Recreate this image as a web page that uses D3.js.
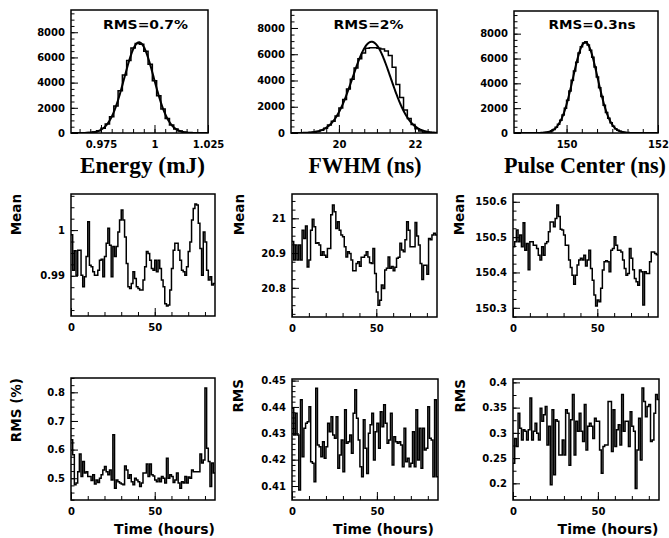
<!DOCTYPE html>
<html><head><meta charset="utf-8">
<script src="https://cdn.jsdelivr.net/npm/d3@7"></script>
<style>
body{margin:0;background:#fff}
svg{display:block}
text{font-family:"DejaVu Sans",sans-serif;font-weight:bold;fill:#000}
</style></head><body>
<svg id="c" width="669" height="538"></svg>
<script>
// ---------- DATA ----------
// Histograms (counts per bin)
const energyBinStart = 0.961, energyBinWidth = 0.002;
const energyCounts = [0,1,4,11,31,77,176,372,722,1290,2150,3350,4600,5750,6750,7100,7050,6500,5450,4150,2950,1900,1150,640,320,150,64,25,9,3,1,0];
const energyFit = [7200, 0.9928, 0.0069]; // amplitude, mean, sigma

const fwhmBinStart = 18.8, fwhmBinWidth = 0.1;
const fwhmCounts = [0,0,0,3,30,60,120,210,360,600,900,1300,1900,2550,3350,4100,4950,5650,6100,6450,6500,6500,6450,6400,6250,5900,5000,3700,2700,1750,1100,640,330,150,60,20,6,0];
const fwhmFit = [6950, 20.86, 0.5];

const pulseBinStart = 149.35, pulseBinWidth = 0.05;
const pulseCounts = [5,9,18,34,61,106,180,292,458,695,1028,1455,1990,2634,3380,4250,5000,5700,6440,6950,7240,7350,7090,6670,6100,5320,4520,3650,2930,2240,1660,1185,820,548,352,218,132,76,44,23,12,6,3];
const pulseFit = [7300, 150.41, 0.27];

// Time series (1-hour bins starting at t = 0)
const energyMean = [0.9990,0.9912,0.9955,0.9901,0.9956,0.9956,0.9901,0.9876,0.9898,0.9942,
 1.0018,0.9923,0.9920,0.9909,0.9901,0.9901,0.9912,0.9934,0.9936,0.9898,
 0.9942,0.9971,1.0004,0.9967,0.9898,0.9964,0.9942,0.9964,0.9996,1.0022,
 1.0044,1.0022,0.9985,0.9927,0.9876,0.9872,0.9883,0.9909,0.9894,0.9876,
 0.9872,0.9869,0.9869,0.9891,0.9920,0.9953,0.9949,0.9934,0.9916,0.9912,
 0.9934,0.9909,0.9934,0.9916,0.9891,0.9876,0.9839,0.9834,0.9836,0.9869,
 0.9916,0.9956,0.9971,0.9971,0.9956,0.9934,0.9912,0.9909,0.9901,0.9920,
 0.9953,0.9974,1.0022,1.0047,1.0057,1.0055,1.0015,0.9960,0.9901,0.9996,
 0.9974,0.9912,0.9891,0.9898,0.9880,0.9883];
const fwhmMean = [20.933,20.880,20.923,20.880,20.923,20.880,20.966,20.942,20.978,20.860,
 20.880,20.966,20.997,20.976,20.928,20.930,20.923,20.894,20.904,20.894,
 20.888,20.913,20.913,21.010,21.038,21.019,20.971,20.990,20.966,20.952,
 20.947,20.918,20.889,20.904,20.899,20.880,20.849,20.849,20.870,20.875,
 20.862,20.888,20.888,20.894,20.904,20.889,20.872,20.870,20.913,20.841,
 20.788,20.750,20.764,20.808,20.798,20.851,20.856,20.889,20.856,20.861,
 20.849,20.859,20.885,20.888,20.928,20.909,20.904,20.938,20.990,20.966,
 20.918,20.918,20.918,20.988,20.949,20.923,20.870,20.824,20.865,20.865,
 20.839,20.942,20.938,20.952,20.957,20.952];
const pulseMean = [150.473,150.487,150.520,150.487,150.506,150.473,150.541,150.463,150.482,150.408,
 150.487,150.487,150.477,150.477,150.468,150.449,150.435,150.473,150.449,150.482,
 150.487,150.515,150.543,150.543,150.529,150.553,150.591,150.558,150.522,150.520,
 150.506,150.477,150.477,150.435,150.414,150.392,150.367,150.392,150.421,150.435,
 150.440,150.435,150.449,150.418,150.435,150.463,150.411,150.378,150.336,150.305,
 150.322,150.317,150.355,150.407,150.430,150.433,150.430,150.402,150.463,150.468,
 150.501,150.477,150.463,150.463,150.458,150.435,150.411,150.392,150.397,150.468,
 150.440,150.408,150.383,150.374,150.364,150.407,150.402,150.308,150.402,150.397,
 150.397,150.430,150.458,150.458,150.454,150.450];
const energyRms = [0.634,0.582,0.477,0.483,0.523,0.585,0.506,0.558,0.518,0.523,
 0.506,0.506,0.492,0.512,0.480,0.494,0.485,0.500,0.512,0.529,
 0.541,0.523,0.512,0.529,0.494,0.652,0.465,0.494,0.488,0.483,
 0.480,0.477,0.543,0.529,0.500,0.512,0.488,0.477,0.500,0.494,
 0.488,0.471,0.483,0.518,0.518,0.550,0.506,0.550,0.512,0.508,
 0.494,0.488,0.500,0.488,0.506,0.500,0.483,0.570,0.500,0.512,
 0.506,0.485,0.494,0.518,0.483,0.465,0.488,0.483,0.506,0.483,
 0.504,0.500,0.529,0.523,0.523,0.523,0.523,0.585,0.553,0.564,
 0.815,0.605,0.558,0.471,0.553,0.518];
const fwhmRms = [0.4395,0.4294,0.4376,0.4294,0.4085,0.4427,0.4211,0.4319,0.4338,0.4344,
 0.4401,0.4192,0.4186,0.4116,0.4471,0.4256,0.4249,0.4211,0.4268,0.4205,
 0.4249,0.4338,0.4306,0.4363,0.4294,0.4281,0.4363,0.4167,0.4218,0.4275,
 0.4154,0.4389,0.4262,0.4268,0.4294,0.4224,0.4376,0.4465,0.4357,0.4275,
 0.4173,0.4135,0.4351,0.4243,0.4148,0.4300,0.4332,0.4376,0.4199,0.4306,
 0.4338,0.4243,0.4382,0.4325,0.4408,0.4338,0.4262,0.4275,0.4376,0.4180,
 0.4287,0.4268,0.4262,0.4268,0.4256,0.4173,0.4319,0.4192,0.4205,0.4173,
 0.4186,0.4306,0.4173,0.4389,0.4199,0.4319,0.4167,0.4319,0.4237,0.4243,
 0.4401,0.4281,0.4275,0.4135,0.4427,0.4135];
const pulseRms = [0.240,0.289,0.273,0.339,0.309,0.286,0.306,0.303,0.286,0.306,
 0.369,0.286,0.303,0.319,0.299,0.286,0.349,0.323,0.336,0.352,
 0.276,0.313,0.197,0.346,0.217,0.326,0.323,0.256,0.256,0.286,
 0.256,0.346,0.339,0.236,0.326,0.376,0.256,0.323,0.303,0.339,
 0.303,0.283,0.356,0.266,0.313,0.319,0.313,0.289,0.329,0.323,
 0.323,0.266,0.220,0.273,0.276,0.276,0.362,0.362,0.263,0.346,
 0.273,0.306,0.316,0.276,0.376,0.303,0.323,0.323,0.273,0.342,
 0.313,0.303,0.190,0.266,0.329,0.246,0.389,0.362,0.332,0.352,
 0.356,0.283,0.286,0.339,0.376,0.366];

// Tick labels
const countTicks = [0,2000,4000,6000,8000];
const energyTicks = [0.975,1,1.025];
const fwhmTicks = [20,22];
const pulseTicks = [150,152];
const timeTicks = [0,50];
const energyMeanTicks = [0.99,1];
const fwhmMeanTicks = [20.8,20.9,21];
const pulseMeanTicks = [150.3,150.4,150.5,150.6];
const energyRmsTicks = [0.5,0.6,0.7,0.8];
const fwhmRmsTicks = [0.41,0.42,0.43,0.44,0.45];
const pulseRmsTicks = [0.2,0.25,0.3,0.35,0.4];

const rmsLabels = ["RMS=0.7%","RMS=2%","RMS=0.3ns"];
const xTitlesTop = ["Energy (mJ)","FWHM (ns)","Pulse Center (ns)"];
const yTitlesMid = ["Mean","Mean","Mean"];
const yTitlesBot = ["RMS (%)","RMS","RMS"];
const timeTitle = "Time (hours)";

// ---------- DRAWING ----------
const svg = d3.select("#c");
let clipId = 0;

function minorVals(domain, base, step){
  const out=[]; const k0=Math.ceil((domain[0]-base)/step-1e-9), k1=Math.floor((domain[1]-base)/step+1e-9);
  for(let k=k0;k<=k1;k++) out.push(base+k*step);
  return out;
}

function panel(c){
  const x = d3.scaleLinear().domain(c.xd).range([c.x0,c.x1]);
  const y = d3.scaleLinear().domain(c.yd).range([c.y1,c.y0]);
  const g = svg.append("g");
  const id = "clip"+(clipId++);
  svg.append("clipPath").attr("id",id).append("rect")
    .attr("x",c.x0).attr("y",c.y0).attr("width",c.x1-c.x0).attr("height",c.y1-c.y0);
  const gxm = g.append("g").attr("transform",`translate(0,${c.y1})`)
    .call(d3.axisBottom(x).tickValues(minorVals(c.xd,c.xMajor[0],c.xMinor)).tickSize(-4).tickFormat(""));
  const gym = g.append("g").attr("transform",`translate(${c.x0},0)`)
    .call(d3.axisLeft(y).tickValues(minorVals(c.yd,c.yMajor[0],c.yMinor)).tickSize(-3.5).tickFormat(""));
  const gx = g.append("g").attr("transform",`translate(0,${c.y1})`)
    .call(d3.axisBottom(x).tickValues(c.xMajor).tickSizeInner(-8).tickSizeOuter(0).tickPadding(8).tickFormat(String));
  const gy = g.append("g").attr("transform",`translate(${c.x0},0)`)
    .call(d3.axisLeft(y).tickValues(c.yMajor).tickSizeInner(-7).tickSizeOuter(0).tickPadding(6).tickFormat(String));
  [gxm,gym,gx,gy].forEach(a=>{a.select(".domain").remove(); a.selectAll("line").attr("stroke","#000").attr("stroke-width",1);
    a.attr("font-size",10).attr("font-family",null);});
  return {x,y,g,clip:`url(#${id})`};
}

function histPath(p, start, width, counts){
  const pts=[[start,0]];
  counts.forEach((v,i)=>pts.push([start+i*width,v]));
  pts.push([start+counts.length*width,counts[counts.length-1]]);
  pts.push([start+counts.length*width,0]);
  return d3.line().x(d=>p.x(d[0])).y(d=>p.y(d[1])).curve(d3.curveStepAfter)(pts);
}
function fitPath(p, fit){
  const [a,m,s]=fit; const d=p.x.domain();
  const xs=d3.range(0,401).map(i=>d[0]+(d[1]-d[0])*i/400);
  return d3.line().x(v=>p.x(v)).y(v=>p.y(a*Math.exp(-0.5*((v-m)/s)**2)))(xs);
}
function stepPath(p, vals){
  const pts=vals.map((v,i)=>[i,v]); pts.push([vals.length,vals[vals.length-1]]);
  return d3.line().x(d=>p.x(d[0])).y(d=>p.y(d[1])).curve(d3.curveStepAfter)(pts);
}
function frame(c){
  svg.append("rect").attr("x",c.x0).attr("y",c.y0).attr("width",c.x1-c.x0).attr("height",c.y1-c.y0)
    .attr("fill","none").attr("stroke","#000").attr("stroke-width",1.5);
}

// ---- top row: histograms ----
const topCfg = [
  {x0:71,x1:208,y0:10,y1:133,xd:[0.961,1.025],yd:[0,9766],xMajor:energyTicks,xMinor:0.005,yMajor:countTicks,yMinor:500,
   hist:[energyBinStart,energyBinWidth,energyCounts],fit:energyFit,rx:103,ry:28.5,rl:85,tx:80,tl:125},
  {x0:291,x1:437,y0:10,y1:133,xd:[18.74,22.58],yd:[0,9370],xMajor:fwhmTicks,xMinor:1/3,yMajor:countTicks,yMinor:500,
   hist:[fwhmBinStart,fwhmBinWidth,fwhmCounts],fit:fwhmFit,rx:333.5,ry:28.5,rl:70,tx:308.5,tl:113},
  {x0:514,x1:658,y0:11,y1:133,xd:[148.85,152.0],yd:[0,9826],xMajor:pulseTicks,xMinor:1/3,yMajor:countTicks,yMinor:500,
   hist:[pulseBinStart,pulseBinWidth,pulseCounts],fit:pulseFit,rx:548.5,ry:29,rl:87,tx:504,tl:162}
];
topCfg.forEach((c,i)=>{
  const p=panel(c);
  p.g.append("path").attr("d",histPath(p,...c.hist)).attr("fill","none").attr("stroke","#000").attr("stroke-width",1.5).attr("clip-path",p.clip);
  p.g.append("path").attr("d",fitPath(p,c.fit)).attr("fill","none").attr("stroke","#000").attr("stroke-width",2).attr("clip-path",p.clip);
  frame(c);
  svg.append("text").attr("x",c.rx).attr("y",c.ry).attr("font-size",11.5)
    .attr("textLength",c.rl).attr("lengthAdjust","spacingAndGlyphs").text(rmsLabels[i]);
  svg.append("text").attr("x",c.tx).attr("y",173).attr("font-size",22.5)
    .style("font-family","'Liberation Serif','Times New Roman',serif")
    .attr("textLength",c.tl).attr("lengthAdjust","spacingAndGlyphs").text(xTitlesTop[i]);
});

// ---- middle / bottom rows: vs time ----
const midCfg = [
  {x0:71,x1:215,y0:194,y1:316,xd:[0,86],yd:[0.9812,1.0079],xMajor:timeTicks,xMinor:10,yMajor:energyMeanTicks,yMinor:0.0025,vals:energyMean,tbx:21},
  {x0:292,x1:437,y0:194,y1:317,xd:[0,86],yd:[20.716,21.07],xMajor:timeTicks,xMinor:10,yMajor:fwhmMeanTicks,yMinor:0.025,vals:fwhmMean,tbx:243.5},
  {x0:513,x1:658,y0:194,y1:317,xd:[0,86],yd:[150.274,150.622],xMajor:timeTicks,xMinor:10,yMajor:pulseMeanTicks,yMinor:0.025,vals:pulseMean,tbx:464}
];
const botCfg = [
  {x0:71,x1:215,y0:378,y1:500,xd:[0,86],yd:[0.424,0.85],xMajor:timeTicks,xMinor:10,yMajor:energyRmsTicks,yMinor:0.025,vals:energyRms,tbx:20.5,te:215},
  {x0:292,x1:438,y0:379,y1:500,xd:[0,86],yd:[0.4047,0.4506],xMajor:timeTicks,xMinor:10,yMajor:fwhmRmsTicks,yMinor:0.002,vals:fwhmRms,tbx:243,te:434},
  {x0:513,x1:659,y0:379,y1:500,xd:[0,86],yd:[0.167,0.4067],xMajor:timeTicks,xMinor:10,yMajor:pulseRmsTicks,yMinor:0.025,vals:pulseRms,tbx:465,te:658.5}
];
function timePanel(c, title){
  const p=panel(c);
  p.g.append("path").attr("d",stepPath(p,c.vals)).attr("fill","none").attr("stroke","#000").attr("stroke-width",1.5).attr("clip-path",p.clip);
  frame(c);
  svg.append("text").attr("transform",`translate(${c.tbx},${c.y0}) rotate(-90)`).attr("text-anchor","end")
    .attr("font-size",13.5).text(title);
}
midCfg.forEach((c,i)=>timePanel(c,yTitlesMid[i]));
botCfg.forEach((c,i)=>{
  timePanel(c,yTitlesBot[i]);
  svg.append("text").attr("x",c.te).attr("y",534).attr("text-anchor","end").attr("font-size",14).text(timeTitle);
});
</script>
</body></html>
